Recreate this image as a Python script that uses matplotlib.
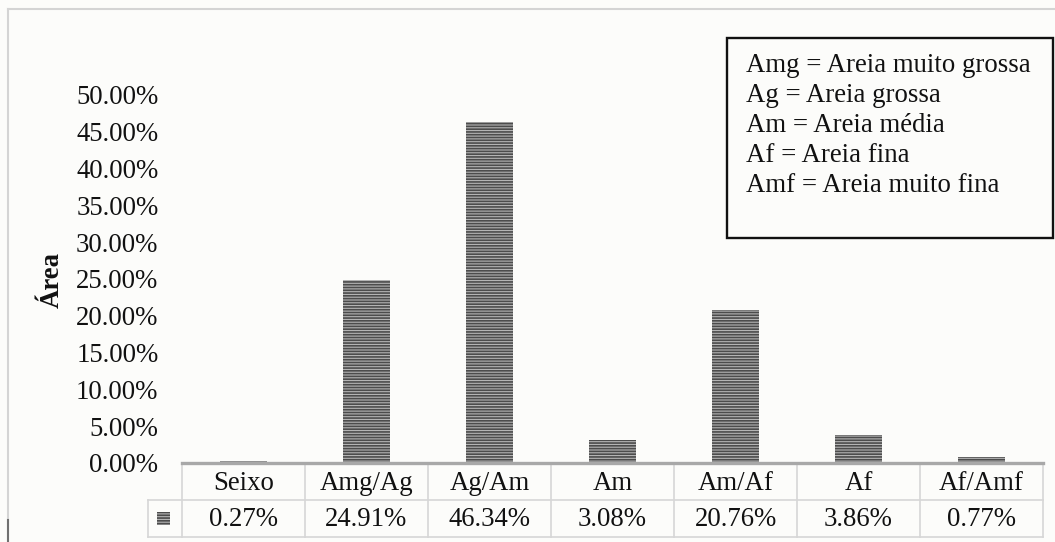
import matplotlib
matplotlib.use("Agg")
import matplotlib.pyplot as plt
from matplotlib.patches import Rectangle
from matplotlib.lines import Line2D
import matplotlib.transforms as mtransforms

# Grain-size classes and their share of the area
categories = ["Seixo", "Amg/Ag", "Ag/Am", "Am", "Am/Af", "Af", "Af/Amf"]
values = [0.27, 24.91, 46.34, 3.08, 20.76, 3.86, 0.77]
value_labels = ["0.27%", "24.91%", "46.34%", "3.08%", "20.76%", "3.86%", "0.77%"]
yticks = [0, 5, 10, 15, 20, 25, 30, 35, 40, 45, 50]
legend_lines = [
    "Amg = Areia muito grossa",
    "Ag = Areia grossa",
    "Am = Areia média",
    "Af = Areia fina",
    "Amf = Areia muito fina",
]

W, H = 1055, 542
BG = "#fcfcfa"
SERIF = ["Liberation Serif", "DejaVu Serif"]
FS = 19.3

plt.rcParams["font.family"] = SERIF
plt.rcParams["hatch.linewidth"] = 1.2

fig = plt.figure(figsize=(W / 100, H / 100), dpi=100, facecolor=BG)


def fx(px):
    return px / W


def fy(py):
    return 1 - py / H


# light outer frame of the chart
fig.add_artist(Line2D([fx(8), 1], [fy(9), fy(9)], color="#d4d4d4", lw=1.5))
fig.add_artist(Line2D([fx(8), fx(8)], [fy(9), 0], color="#d4d4d4", lw=1.5))
fig.add_artist(Line2D([fx(8), fx(8)], [fy(520), 0], color="#707070", lw=1.5))

left, right, bottom, top = 182, 1043, 463, 95
ax = fig.add_axes([fx(left), fy(bottom), fx(right - left), fy(top) - fy(bottom)])
ax.set_facecolor(BG)
ax.set_xlim(-0.5, len(categories) - 0.5)
ax.set_ylim(0, 50)

x = list(range(len(categories)))
ax.bar(x, values, width=0.38, color="#b4b4b4", edgecolor="#4c4c4c",
       hatch="------", linewidth=0, zorder=2)

for s in ax.spines.values():
    s.set_visible(False)
ax.set_xticks([])
ax.set_yticks(yticks)
ax.set_yticklabels([f"{t:.2f}%" for t in yticks], fontsize=FS, color="#111111")
ax.tick_params(axis="y", length=0, pad=17)

fig.text(fx(52), fy(280), "Área", rotation=90, fontsize=FS, fontweight="bold",
         ha="center", va="center", color="#111111")

# data table under the axis
trans = mtransforms.blended_transform_factory(ax.transData, fig.transFigure)
grid_c = "#d6d6d6"
y_top, y_mid, y_bot = fy(463), fy(500), fy(537)
ax.add_artist(Line2D([-0.5, len(categories) - 0.5], [y_top, y_top], transform=trans,
                     color="#a8a8a8", lw=2.4, clip_on=False, zorder=3))
for yy in (y_mid, y_bot):
    fig.add_artist(Line2D([fx(148), fx(right)], [yy, yy], color=grid_c, lw=1.2))
for i in range(len(categories) + 1):
    xb = i - 0.5
    ax.add_artist(Line2D([xb, xb], [y_bot, y_top], transform=trans, color=grid_c,
                         lw=1.2, clip_on=False))
fig.add_artist(Line2D([fx(148), fx(148)], [y_bot, y_mid], color=grid_c, lw=1.2))

for i, (c, v) in enumerate(zip(categories, value_labels)):
    ax.text(i, fy(483), c, transform=trans, ha="center", va="center",
            fontsize=FS, color="#111111", clip_on=False)
    ax.text(i, fy(519), v, transform=trans, ha="center", va="center",
            fontsize=FS, color="#111111", clip_on=False)

# series key in the table
fig.add_artist(Rectangle((fx(157), fy(525)), fx(13), fy(512) - fy(525),
                         facecolor="#b4b4b4", edgecolor="#4c4c4c", hatch="------",
                         linewidth=0))

# abbreviation box
fig.add_artist(Rectangle((fx(727), fy(238)), fx(1053 - 727), fy(38) - fy(238),
                         facecolor=BG, edgecolor="#111111", linewidth=1.7))
for k, line in enumerate(legend_lines):
    fig.text(fx(746), fy(66 + 30 * k), line, fontsize=FS, ha="left", va="center",
             color="#111111")

fig.savefig("out.png", dpi=100, facecolor=BG)
